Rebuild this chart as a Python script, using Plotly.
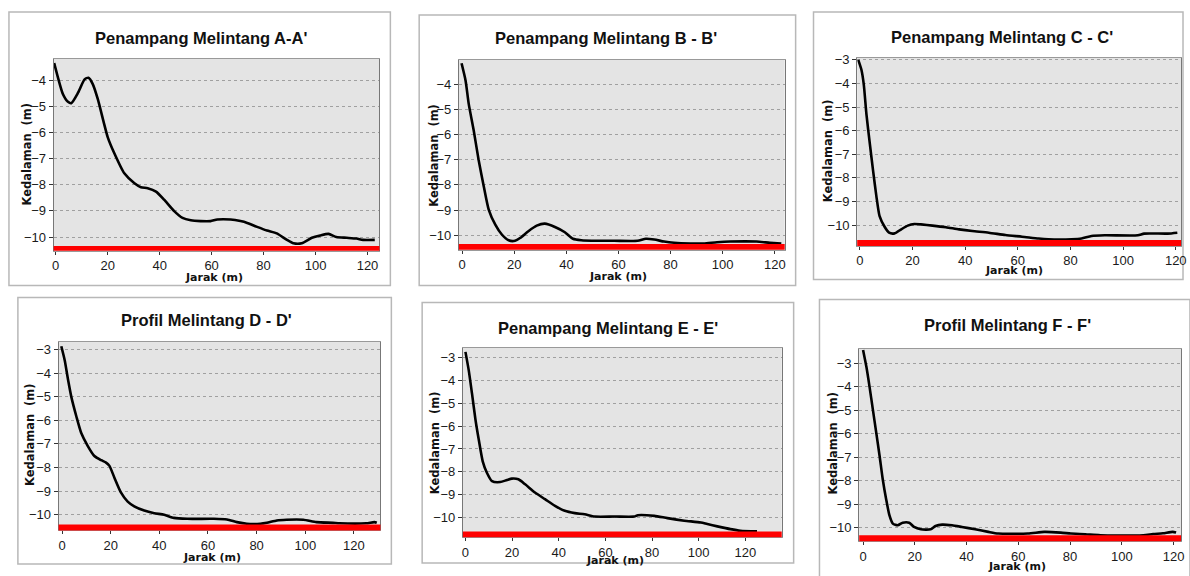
import plotly.graph_objects as go

W, H = 1190, 576

# ---------------- data ----------------
titles = ["Penampang Melintang A-A'", "Penampang Melintang B - B'", "Penampang Melintang C - C'",
          "Profil Melintang D - D'", "Penampang Melintang E - E'", "Profil Melintang F - F'"]
x_label = "Jarak (m)"
y_label = "Kedalaman  (m)"

xA = [-0.6, 2.8, 4.7, 6.0, 8.6, 11.1, 12.6, 14.3, 16.2, 20.0, 22.6, 26.4, 30.3, 32.8, 35.4, 38.6, 41.7, 45.6,
      48.8, 52.0, 55.8, 59.6, 62.2, 67.3, 71.1, 73.7, 77.5, 81.3, 85.1, 89.0, 91.5, 94.7, 98.6, 101.8, 105.0,
      108.0, 112.0, 115.8, 118.3, 122.8]
yA = [-3.33, -4.53, -4.82, -4.87, -4.47, -3.96, -3.9, -4.15, -4.72, -6.17, -6.8, -7.56, -7.94, -8.09, -8.13,
      -8.26, -8.57, -9.01, -9.27, -9.36, -9.39, -9.39, -9.33, -9.33, -9.39, -9.46, -9.61, -9.75, -9.86, -10.11,
      -10.24, -10.24, -10.03, -9.94, -9.88, -10.0, -10.03, -10.06, -10.11, -10.11]

xB = [-0.25, 1.3, 2.5, 4.4, 6.3, 8.3, 10.2, 12.7, 15.2, 17.8, 20.3, 22.2, 25.4, 28.6, 31.7, 35.6, 39.4, 42.5,
      45.7, 52.0, 58.4, 67.3, 70.5, 73.7, 77.5, 81.3, 87.6, 92.7, 97.8, 102.9, 113.0, 118.1, 122.5]
yB = [-3.17, -3.86, -4.78, -5.83, -7.01, -8.07, -8.99, -9.58, -9.97, -10.2, -10.22, -10.11, -9.84, -9.62,
      -9.54, -9.67, -9.88, -10.14, -10.2, -10.22, -10.22, -10.22, -10.14, -10.17, -10.25, -10.3, -10.33,
      -10.33, -10.28, -10.25, -10.25, -10.3, -10.33]

xC = [-0.6, 0.6, 1.5, 2.5, 3.8, 5.0, 6.3, 7.5, 9.4, 11.1, 13.2, 15.7, 18.2, 20.7, 23.2, 27.6, 32.7, 37.7,
      42.7, 49.0, 55.3, 61.6, 67.9, 71.6, 80.4, 84.2, 88.0, 93.0, 105.6, 108.0, 116.9, 120.6]
yC = [-3.0, -3.42, -4.05, -5.3, -6.56, -7.67, -8.79, -9.62, -10.07, -10.32, -10.35, -10.18, -10.02, -9.95,
      -9.97, -10.02, -10.09, -10.18, -10.25, -10.32, -10.42, -10.49, -10.57, -10.6, -10.6, -10.57, -10.46,
      -10.43, -10.43, -10.36, -10.36, -10.32]

xD = [-0.3, 1.1, 2.5, 3.8, 5.9, 7.9, 10.6, 13.3, 16.1, 18.1, 19.5, 21.5, 24.2, 27.0, 29.7, 33.8, 37.9, 42.0,
      46.0, 51.4, 62.4, 67.8, 71.9, 76.0, 81.5, 84.2, 88.3, 92.3, 99.2, 104.6, 111.4, 114.1, 125.0, 128.4, 129.4]
yD = [-2.87, -3.46, -4.3, -5.0, -5.84, -6.54, -7.09, -7.51, -7.69, -7.79, -7.93, -8.42, -9.05, -9.44, -9.64,
      -9.82, -9.93, -10.0, -10.13, -10.17, -10.17, -10.2, -10.31, -10.38, -10.38, -10.34, -10.24, -10.21,
      -10.21, -10.31, -10.34, -10.36, -10.36, -10.31, -10.34]

xE = [0.0, 1.4, 2.8, 4.3, 5.7, 7.4, 9.2, 11.4, 14.9, 17.8, 19.9, 22.7, 25.6, 29.8, 34.1, 38.4, 42.6, 46.9,
      51.1, 55.4, 63.9, 72.4, 73.9, 81.0, 86.6, 93.8, 100.9, 103.7, 108.0, 113.6, 117.9, 125.0]
yE = [-2.75, -3.55, -4.57, -5.72, -6.59, -7.54, -8.04, -8.41, -8.45, -8.36, -8.3, -8.33, -8.55, -8.91, -9.2,
      -9.49, -9.71, -9.81, -9.86, -9.96, -9.96, -9.96, -9.9, -9.93, -10.03, -10.14, -10.22, -10.29, -10.39,
      -10.51, -10.58, -10.61]

xF = [0.0, 1.3, 2.5, 3.8, 5.1, 6.4, 7.6, 8.9, 10.2, 11.5, 13.4, 15.3, 17.8, 19.7, 22.3, 26.1, 28.0, 30.6,
      34.4, 38.2, 43.3, 48.4, 52.2, 63.7, 70.0, 76.4, 80.3, 86.6, 91.7, 108.3, 112.1, 115.9, 119.7, 121.0]
yF = [-2.44, -3.17, -4.01, -4.99, -5.97, -6.96, -7.94, -8.78, -9.48, -9.83, -9.9, -9.79, -9.79, -9.97,
      -10.07, -10.07, -9.93, -9.87, -9.9, -9.97, -10.07, -10.18, -10.25, -10.25, -10.18, -10.21, -10.25,
      -10.29, -10.32, -10.32, -10.27, -10.24, -10.18, -10.21]

x_ticks = [0, 20, 40, 60, 80, 100, 120]
y_ticks_A = [-4, -5, -6, -7, -8, -9, -10]
y_ticks_B = [-4, -5, -6, -7, -8, -9, -10]
y_ticks_C = [-3, -4, -5, -6, -7, -8, -9, -10]
y_ticks_D = [-3, -4, -5, -6, -7, -8, -9, -10]
y_ticks_E = [-3, -4, -5, -6, -7, -8, -9, -10]
y_ticks_F = [-3, -4, -5, -6, -7, -8, -9, -10]

series = [(xA, yA, y_ticks_A), (xB, yB, y_ticks_B), (xC, yC, y_ticks_C),
          (xD, yD, y_ticks_D), (xE, yE, y_ticks_E), (xF, yF, y_ticks_F)]

# ---------------- layout geometry (pixels) ----------------
plot_px = [(52, 380, 54, 248), (460, 788, 55, 247), (861, 1187, 53, 243),
           (57, 381, 340, 530), (464, 785, 346, 537), (863, 1187, 347, 541)]
box_px = [(7, 7, 391, 283), (420, 10, 799, 283), (817, 7, 1189, 277),
          (16, 295, 392, 564), (423, 300, 797, 563), (823, 297, 1196, 590)]
x_rng = [(-0.8, 124.6), (-1.27, 123.8), (-1.0, 122.0), (-1.4, 130.9), (-1.1, 135.6), (-1.5, 122.9)]
y_rng = [(-10.53, -3.16), (-10.58, -3.02), (-10.88, -2.9), (-10.66, -2.69), (-10.87, -2.58), (-10.58, -2.4)]
red_h = [5, 6, 6, 6, 6, 6]
title_px = [(200, 33), (608, 33), (1007, 32), (206, 318), (610, 326), (1012, 323)]
xlab_px = [(213, 275), (620, 274), (1019, 268), (211, 557), (617, 560), (1022, 566)]
ylab_px = [(25, 150), (435, 152), (831, 147), (28, 433), (436, 442), (837, 442)]

px = lambda v: v / W
py = lambda v: 1 - v / H

fig = go.Figure()
shapes, annotations = [], []
tick_font = dict(family="Liberation Sans, Arial, sans-serif", size=13, color="#1a1a1a")

for i, ((xs, ys, yt), (L, R, T, B)) in enumerate(zip(series, plot_px)):
    n = "" if i == 0 else str(i + 1)
    fig.add_trace(go.Scatter(x=xs, y=ys, mode="lines",
                             line=dict(color="black", width=2.6, shape="spline", smoothing=0.6),
                             xaxis="x" + n, yaxis="y" + n, showlegend=False, hoverinfo="skip"))
    fig.layout["xaxis" + n] = dict(domain=[px(L), px(R)], anchor="y" + n, range=list(x_rng[i]),
                                   tickvals=x_ticks, ticks="outside", ticklen=3, tickcolor="#333333",
                                   showgrid=False, zeroline=False, showline=True, mirror=True,
                                   linecolor="#999999", linewidth=1, tickfont=tick_font)
    fig.layout["yaxis" + n] = dict(domain=[py(B), py(T)], anchor="x" + n, range=list(y_rng[i]),
                                   tickvals=yt, ticks="outside", ticklen=4, tickcolor="#333333",
                                   showgrid=True, gridcolor="#a0a0a0", griddash="dot", gridwidth=1,
                                   zeroline=False, showline=True, mirror=True,
                                   linecolor="#777777", linewidth=1, tickfont=tick_font)
    # red bottom band
    shapes.append(dict(type="rect", xref="x" + n + " domain", yref="y" + n + " domain",
                       x0=0, x1=1, y0=0, y1=red_h[i] / (B - T), fillcolor="#ff0000",
                       line=dict(width=0), layer="above"))
    # panel box
    bx0, by0, bx1, by1 = box_px[i]
    shapes.append(dict(type="rect", xref="paper", yref="paper", x0=px(bx0), x1=px(bx1),
                       y0=py(by1), y1=py(by0), line=dict(color="#b8b8b8", width=1.5),
                       fillcolor="rgba(0,0,0,0)", layer="below"))
    tx, ty = title_px[i]
    annotations.append(dict(text="<b>%s</b>" % titles[i], x=px(tx), y=py(ty), xref="paper", yref="paper",
                            showarrow=False, xanchor="center", yanchor="middle",
                            font=dict(family="Liberation Sans, Arial, sans-serif", size=16.5, color="#111111")))
    lx, ly = xlab_px[i]
    annotations.append(dict(text="<b>%s</b>" % x_label, x=px(lx), y=py(ly), xref="paper", yref="paper",
                            showarrow=False, xanchor="center", yanchor="middle",
                            font=dict(family="DejaVu Sans, sans-serif", size=11, color="#111111")))
    kx, ky = ylab_px[i]
    annotations.append(dict(text="<b>%s</b>" % y_label, x=px(kx), y=py(ky), xref="paper", yref="paper",
                            showarrow=False, xanchor="center", yanchor="middle", textangle=-90,
                            font=dict(family="DejaVu Sans, sans-serif", size=11.5, color="#111111")))

fig.update_layout(width=W, height=H, margin=dict(l=0, r=0, t=0, b=0),
                  paper_bgcolor="white", plot_bgcolor="#e4e4e4",
                  shapes=shapes, annotations=annotations, showlegend=False)

fig.write_html("out.html", config={"displayModeBar": False},
               post_script="document.body.style.margin='0';document.body.style.overflow='hidden';")
